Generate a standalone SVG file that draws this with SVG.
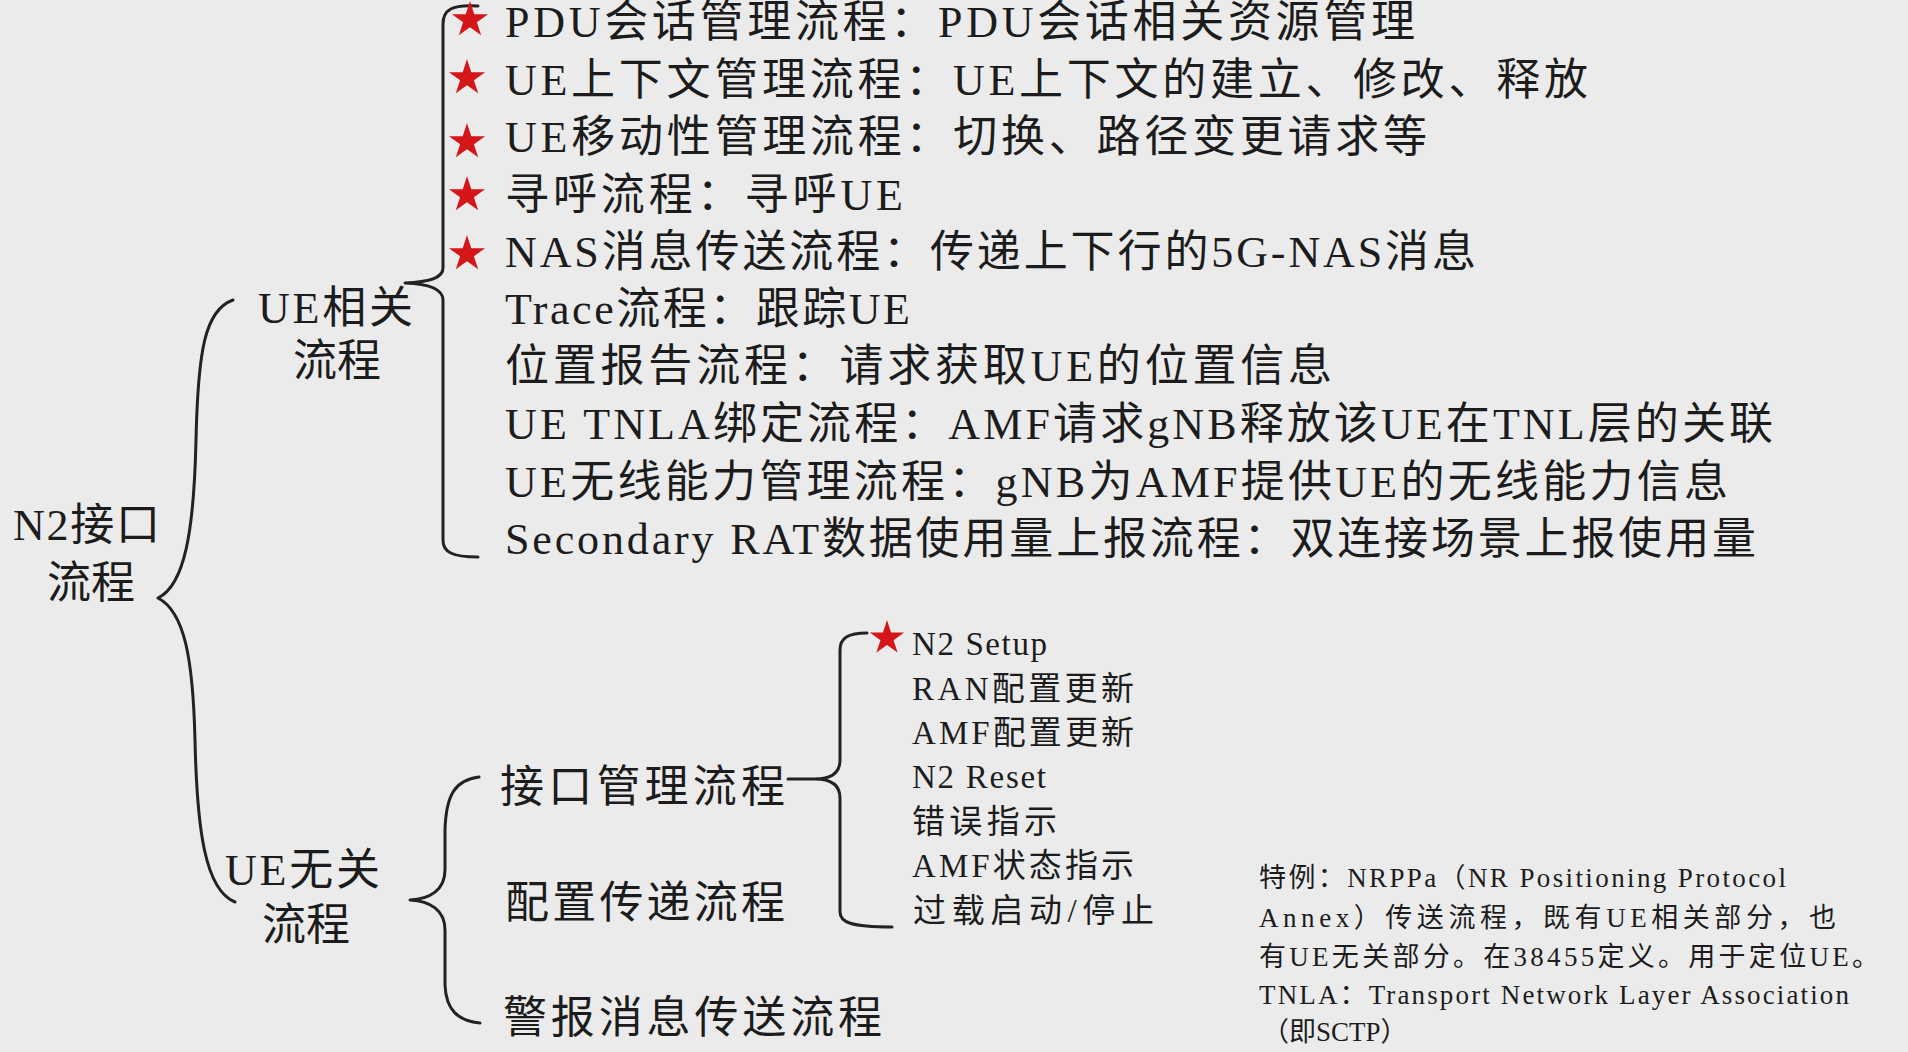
<svg xmlns="http://www.w3.org/2000/svg" xmlns:xlink="http://www.w3.org/1999/xlink" width="1908" height="1052" viewBox="0 0 1908 1052">
<style>
  text { font-family: "Liberation Serif", "Noto Sans CJK SC", serif; fill: #1c1c1c; }
  .big { font-size: 44px; }
  .mid { font-size: 33px; }
  .note { font-size: 27px; }
  .brace { fill: none; stroke: #222; stroke-width: 3; stroke-linecap: round; stroke-linejoin: round; }
  .star { fill: #d4161a; }
</style>
<defs>
  <path id="star" class="star" d="M0,-19 L4.27,-5.87 L18.07,-5.87 L6.9,2.24 L11.17,15.37 L0,7.26 L-11.17,15.37 L-6.9,2.24 L-18.07,-5.87 L-4.27,-5.87 Z"/>
</defs>
<rect x="0" y="0" width="1908" height="1052" fill="#ebebeb"/>

<g id="connectors">
  <path class="brace" d="M233,300 C205,310 198,350 196,440 C194,530 185,585 158,598 C185,612 193,660 195,740 C197,830 205,890 235,902"/>
  <path class="brace" d="M478,6 C452,4 443,10 443,24 L443,268 C443,278 430,282 405,283 C430,284 443,290 443,300 L443,540 C443,552 452,557 478,557"/>
  <path class="brace" d="M479,777 C455,780 446,795 445,830 L445,870 C445,890 430,899 410,900 C430,901 445,910 445,930 L445,985 C446,1010 458,1021 480,1023"/>
  <path class="brace" d="M788,779 L815,779 C832,779 840,772 840,760 L840,650 C840,638 848,633 867,633 M815,779 C832,779 840,786 840,798 L840,912 C840,922 850,927 892,927"/>
</g>

<g id="n2">
  <text class="big" x="13" y="540" textLength="147">N2接口</text>
  <text class="big" x="47" y="598">流程</text>
</g>

<g id="ue-related">
  <text class="big" x="258" y="323" textLength="155">UE相关</text>
  <text class="big" x="293" y="376">流程</text>
</g>

<g id="ue-unrelated">
  <text class="big" x="225" y="885" textLength="155">UE无关</text>
  <text class="big" x="262" y="940">流程</text>
</g>

<g id="ue-related-items">
  <use xlink:href="#star" x="470" y="20"/>
  <use xlink:href="#star" x="467" y="78"/>
  <use xlink:href="#star" x="467" y="142"/>
  <use xlink:href="#star" x="467" y="195"/>
  <use xlink:href="#star" x="467" y="254"/>
  <text class="big" x="505" y="37" textLength="910">PDU会话管理流程：PDU会话相关资源管理</text>
  <text class="big" x="505" y="95" textLength="1083">UE上下文管理流程：UE上下文的建立、修改、释放</text>
  <text class="big" x="505" y="152" textLength="922">UE移动性管理流程：切换、路径变更请求等</text>
  <text class="big" x="505" y="210" textLength="398">寻呼流程：寻呼UE</text>
  <text class="big" x="505" y="267" textLength="971">NAS消息传送流程：传递上下行的5G-NAS消息</text>
  <text class="big" x="505" y="324" textLength="405">Trace流程：跟踪UE</text>
  <text class="big" x="505" y="381" textLength="827">位置报告流程：请求获取UE的位置信息</text>
  <text class="big" x="505" y="439" textLength="1268">UE TNLA绑定流程：AMF请求gNB释放该UE在TNL层的关联</text>
  <text class="big" x="505" y="497" textLength="1223">UE无线能力管理流程：gNB为AMF提供UE的无线能力信息</text>
  <text class="big" x="505" y="554" textLength="1251">Secondary RAT数据使用量上报流程：双连接场景上报使用量</text>
</g>

<g id="interface-mgmt">
  <text class="big" x="500" y="802" textLength="285">接口管理流程</text>
</g>
<g id="config-transfer">
  <text class="big" x="505" y="918" textLength="280">配置传递流程</text>
</g>
<g id="warning-msg">
  <text class="big" x="503" y="1033" textLength="379">警报消息传送流程</text>
</g>

<g id="interface-mgmt-items">
  <use xlink:href="#star" transform="translate(887,638) scale(0.95)"/>
  <text class="mid" x="912" y="655" textLength="135">N2 Setup</text>
  <text class="mid" x="912" y="700" textLength="222">RAN配置更新</text>
  <text class="mid" x="912" y="744" textLength="222">AMF配置更新</text>
  <text class="mid" x="912" y="788" textLength="134">N2 Reset</text>
  <text class="mid" x="912" y="833" textLength="145">错误指示</text>
  <text class="mid" x="912" y="877" textLength="222">AMF状态指示</text>
  <text class="mid" x="913" y="922" textLength="241">过载启动/停止</text>
</g>

<g id="note">
  <text class="note" x="1259" y="887" textLength="527">特例：NRPPa（NR Positioning Protocol</text>
  <text class="note" x="1259" y="927" textLength="577">Annex）传送流程，既有UE相关部分，也</text>
  <text class="note" x="1259" y="966" textLength="620">有UE无关部分。在38455定义。用于定位UE。</text>
  <text class="note" x="1259" y="1004" textLength="590">TNLA：Transport Network  Layer Association</text>
  <text class="note" x="1262" y="1041">（即SCTP）</text>
</g>
</svg>
